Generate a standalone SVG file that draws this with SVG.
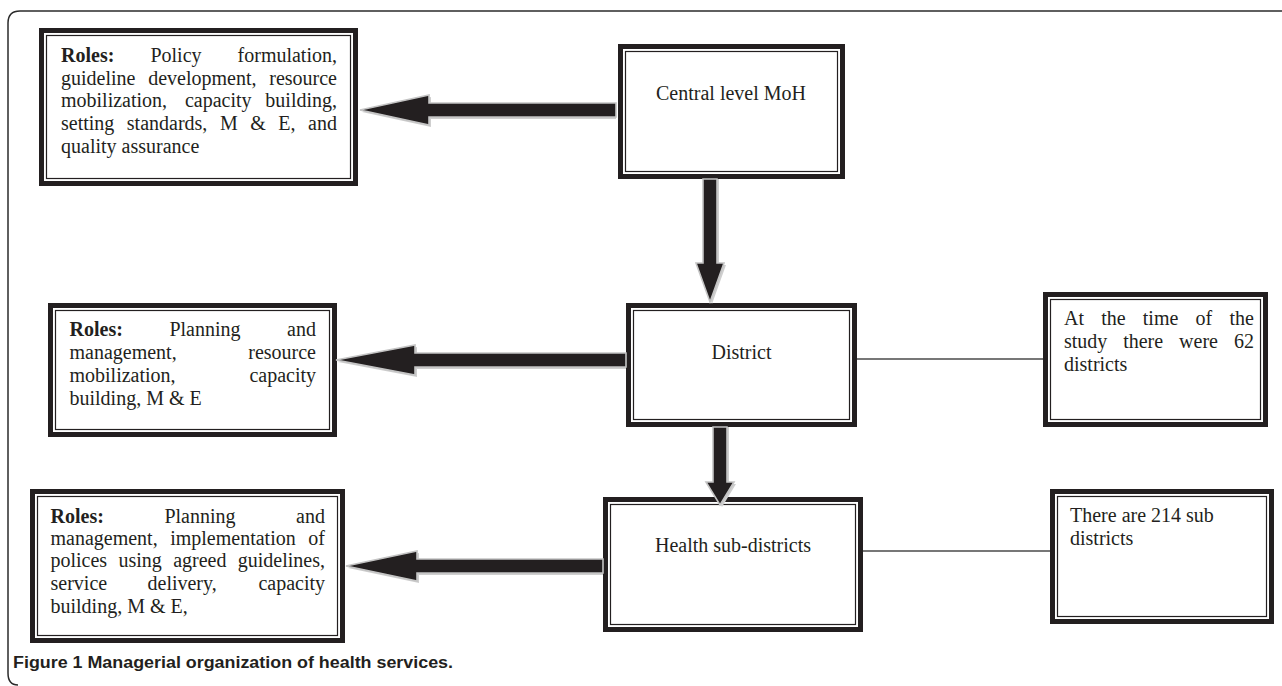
<svg xmlns="http://www.w3.org/2000/svg" width="1282" height="686" viewBox="0 0 1282 686">
<style>
.bg{fill:#ffffff}
.frame{fill:none;stroke:#2b2b2b;stroke-width:1.5}
.outer{fill:#ffffff;stroke:#231f20;stroke-width:5}
.inner{fill:#ffffff;stroke:#231f20;stroke-width:1.2}
.t{font-family:"Liberation Serif","Times New Roman",serif;font-size:20px;fill:#231f20}
.b{font-weight:bold}
.c{text-anchor:middle}
.e{text-anchor:end}
.arrow{fill:#231f20;stroke:#c4c4c4;stroke-width:1.6;stroke-linejoin:miter}
.shadow{fill:#cfcfcf}
.line{stroke:#4a4a4a;stroke-width:1.3;fill:none}
.cap{font-family:"Liberation Sans",Arial,sans-serif;font-size:16px;font-weight:bold;fill:#231f20}
</style>
<rect class="bg" x="0" y="0" width="1282" height="686"/>
<path class="frame" d="M1282,11 H20 Q8,11 8,23 V673 Q8,685 18,685"/>

<g id="roles-central">
<rect class="outer" x="41.5" y="30.5" width="314" height="153"/>
<rect class="inner" x="46.5" y="35.5" width="304" height="143"/>
<text class="t"><tspan class="b" x="61" y="62">Roles:</tspan><tspan x="150.4" y="62">Policy</tspan></text>
<text class="t e" x="337" y="62">formulation,</text>
<text class="t" x="61" y="85">guideline</text><text class="t" x="148.2" y="85">development,</text><text class="t e" x="337" y="85">resource</text>
<text class="t" x="61" y="107">mobilization,</text><text class="t" x="184.9" y="107">capacity</text><text class="t e" x="337" y="107">building,</text>
<text class="t" x="61" y="130">setting</text><text class="t" x="126.8" y="130">standards,</text><text class="t" x="219.9" y="130">M</text><text class="t" x="250.2" y="130">&amp;</text><text class="t" x="278.3" y="130">E,</text><text class="t e" x="337" y="130">and</text>
<text class="t" x="61" y="153">quality assurance</text>
</g>

<g id="central">
<rect class="outer" x="620.5" y="46.5" width="222" height="130"/>
<rect class="inner" x="625.5" y="51.5" width="212" height="120"/>
<text class="t c" x="731" y="100">Central level MoH</text>
</g>

<g id="roles-district">
<rect class="outer" x="50.5" y="305.5" width="284" height="129"/>
<rect class="inner" x="55.5" y="310.5" width="274" height="119"/>
<text class="t"><tspan class="b" x="69.5" y="336">Roles:</tspan><tspan x="169.4" y="336">Planning</tspan></text>
<text class="t e" x="316" y="336">and</text>
<text class="t" x="69.5" y="359">management,</text><text class="t e" x="316" y="359">resource</text>
<text class="t" x="69.5" y="382">mobilization,</text><text class="t e" x="316" y="382">capacity</text>
<text class="t" x="69.5" y="405">building, M &amp; E</text>
</g>

<g id="district">
<rect class="outer" x="628.5" y="305.5" width="226" height="119"/>
<rect class="inner" x="633.5" y="310.5" width="216" height="109"/>
<text class="t c" x="741.5" y="359">District</text>
</g>

<g id="note-districts">
<rect class="outer" x="1045.5" y="294.5" width="220" height="130"/>
<rect class="inner" x="1050.5" y="299.5" width="210" height="120"/>
<text class="t" x="1064" y="325">At</text><text class="t" x="1101.2" y="325">the</text><text class="t" x="1142.8" y="325">time</text><text class="t" x="1195.6" y="325">of</text><text class="t e" x="1254" y="325">the</text>
<text class="t" x="1064" y="348">study</text><text class="t" x="1123.2" y="348">there</text><text class="t" x="1179.1" y="348">were</text><text class="t e" x="1254" y="348">62</text>
<text class="t" x="1064" y="371">districts</text>
</g>

<g id="roles-subdistrict">
<rect class="outer" x="32.5" y="491.5" width="310" height="149"/>
<rect class="inner" x="37.5" y="496.5" width="300" height="139"/>
<text class="t"><tspan class="b" x="50.5" y="523">Roles:</tspan><tspan x="164.4" y="523">Planning</tspan></text>
<text class="t e" x="325" y="523">and</text>
<text class="t" x="50.5" y="545">management,</text><text class="t" x="170.2" y="545">implementation</text><text class="t e" x="325" y="545">of</text>
<text class="t" x="50.5" y="567">polices</text><text class="t" x="118.5" y="567">using</text><text class="t" x="173.2" y="567">agreed</text><text class="t e" x="325" y="567">guidelines,</text>
<text class="t" x="50.5" y="590">service</text><text class="t" x="147.5" y="590">delivery,</text><text class="t e" x="325" y="590">capacity</text>
<text class="t" x="50.5" y="613">building, M &amp; E,</text>
</g>

<g id="health-subdistricts">
<rect class="outer" x="605.5" y="499.5" width="255" height="130"/>
<rect class="inner" x="610.5" y="504.5" width="245" height="120"/>
<text class="t c" x="733" y="552">Health sub-districts</text>
</g>

<g id="note-subdistricts">
<rect class="outer" x="1052.5" y="491.5" width="219" height="130"/>
<rect class="inner" x="1057.5" y="496.5" width="209" height="120"/>
<text class="t" x="1070" y="522">There are 214 sub</text>
<text class="t" x="1070" y="545">districts</text>
</g>

<g id="connectors">
<path class="shadow" d="M616,105 H431 V97 L362,112 L431,127 V119 H616 Z"/>
<path class="arrow" d="M616,103 H429 V95 L360,110 L429,125 V117 H616 Z"/>
<path class="shadow" d="M626,355 H417 V347 L338,362 L417,377 V369 H626 Z"/>
<path class="arrow" d="M626,353 H415 V345 L336,360 L415,375 V367 H626 Z"/>
<path class="shadow" d="M603,561 H419 V553 L348,568 L419,583 V575 H603 Z"/>
<path class="arrow" d="M603,559 H417 V551 L346,566 L417,581 V573 H603 Z"/>
<path class="shadow" d="M705,179 V265 H698 L712,304 L726,265 H719 V179 Z"/>
<path class="arrow" d="M703,179 V263 H696 L710,302 L724,263 H717 V179 Z"/>
<path class="shadow" d="M715,427 V484 H708 L722,507 L736,484 H729 V427 Z"/>
<path class="arrow" d="M713,427 V482 H706 L720,505 L734,482 H727 V427 Z"/>
<line class="line" x1="857" y1="359" x2="1043" y2="359"/>
<line class="line" x1="863" y1="551" x2="1050" y2="551"/>
</g>

<text class="cap" x="13" y="668" textLength="440" lengthAdjust="spacingAndGlyphs">Figure 1 Managerial organization of health services.</text>
</svg>
